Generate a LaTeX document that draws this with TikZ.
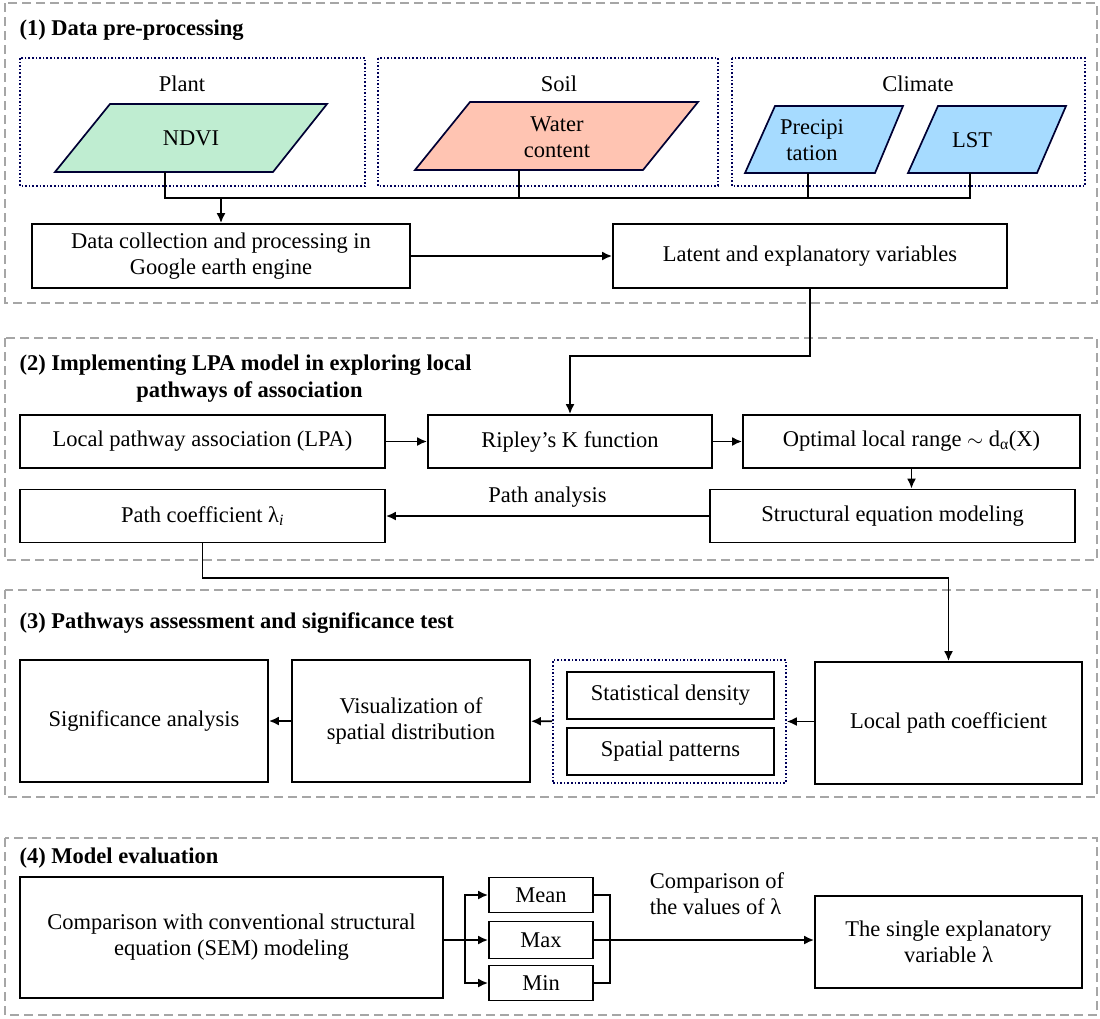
\documentclass[tikz,border=0pt]{standalone}
\usepackage{fontspec}
\setmainfont{LiberationSerif}[Extension=.ttf, UprightFont=*-Regular, BoldFont=*-Bold, ItalicFont=*-Italic, BoldItalicFont=*-BoldItalic]
\usetikzlibrary{arrows.meta}
\begin{document}
\begin{tikzpicture}[x=1pt,y=-1pt,
  font=\fontsize{22.5}{26}\selectfont,
  sect/.style={draw=gray!70, dashed, dash pattern=on 9pt off 5pt, line width=1.5pt},
  grp/.style={draw=blue!35!black, dotted, line width=1.6pt},
  bx/.style={draw, line width=1.8pt, align=center, inner sep=0pt},
  para/.style={draw=black!80!blue, line width=1.7pt},
  ttl/.style={font=\fontsize{22.5}{27}\selectfont\bfseries, anchor=west, align=left},
  ln/.style={line width=1.8pt},
  arr/.style={line width=1.8pt, -{Latex[length=10pt,width=9pt]}}]
\useasboundingbox (0,0) rectangle (1100,1018);
% Section 1
\draw[sect] (5,3) rectangle (1097,303);
\node[ttl] (t1) at (16,30) {(1) Data pre-processing};
\draw[grp] (20,58) rectangle (365,186);
\draw[grp] (378,58) rectangle (718,186);
\draw[grp] (732,58) rectangle (1085,186);
\node (plant) at (182,84) {Plant};
\node (soil) at (559,84) {Soil};
\node (clim) at (918,84) {Climate};
\draw[para, fill=green!45!teal!25] (55,172) -- (110,104) -- (327,104) -- (273,172) -- cycle;
\draw[para, fill=orange!45!red!30!white] (415,170) -- (470,102) -- (698,102) -- (643,170) -- cycle;
\draw[para, fill=blue!40!cyan!35] (745,173) -- (775,106) -- (903,106) -- (875,173) -- cycle;
\draw[para, fill=blue!40!cyan!35] (908,173) -- (938,106) -- (1066,106) -- (1037,173) -- cycle;
\node (ndvi) at (191,138) {NDVI};
\node[align=center] (wc) at (557,137) {Water\\content};
\node[align=center] (pr) at (812,140) {Precipi\\tation};
\node (lst) at (972,140) {LST};
\coordinate (b1) at (165,172); \coordinate (b2) at (519,170);
\coordinate (b3) at (808,173); \coordinate (b4) at (970,173);
\coordinate (hj) at (221,198);
\draw[ln] (b1) |- (b4 |- hj) -- (b4);
\draw[ln] (b2) -- (b2 |- hj);
\draw[ln] (b3) -- (b3 |- hj);
\node[bx, minimum width=378pt, minimum height=64pt] (dc) at (221,256) {Data collection and processing in\\Google earth engine};
\node[bx, minimum width=394pt, minimum height=64pt] (lev) at (810,256) {Latent and explanatory variables};
\draw[arr] (hj) -- (dc.north);
\draw[arr] (dc) -- (lev);
% Section 2
\draw[sect] (5,338) rectangle (1097,560);
\node[ttl] (t2) at (16,379) {(2) Implementing LPA model in exploring local\\\phantom{(2) Impleme}pathways of association};
\node[bx, minimum width=365pt, minimum height=53pt] (lpa) at (202.5,441.5) {Local pathway association (LPA)};
\node[bx, minimum width=284pt, minimum height=53pt] (rip) at (570,441.5) {Ripley's K function};
\node[bx, minimum width=337pt, minimum height=53pt] (opt) at (911.5,441.5) {Optimal local range $\sim$ d\textsubscript{α}(X)};
\node[bx, minimum width=365pt, minimum height=53pt] (sem) at (892.5,516) {Structural equation modeling};
\node[bx, minimum width=365pt, minimum height=53pt] (pc) at (202.5,516) {Path coefficient λ\textsubscript{\itshape i}};
\draw[arr] (lev.south) |- (rip.north |- 0,356) -- (rip.north);
\draw[arr] (lpa) -- (rip);
\draw[arr] (rip) -- (opt);
\draw[arr] (opt.south) -- (opt.south |- sem.north);
\draw[arr] (sem) -- node[above=4pt] (pa) {Path analysis} (pc);
% Section 3
\draw[sect] (5,590) rectangle (1097,797);
\node[ttl] (t3) at (16,623) {(3) Pathways assessment and significance test};
\node[bx, minimum width=248pt, minimum height=122pt] (sig) at (144,721) {Significance analysis};
\node[bx, minimum width=238pt, minimum height=122pt] (vis) at (411,721) {Visualization of\\spatial distribution};
\node[grp, minimum width=233pt, minimum height=123pt, inner sep=0pt] (g) at (669.5,721.5) {};
\node[bx, minimum width=207pt, minimum height=47pt] (sd) at (670.5,695.5) {Statistical density};
\node[bx, minimum width=207pt, minimum height=47pt] (sp) at (670.5,751.5) {Spatial patterns};
\node[bx, minimum width=267pt, minimum height=122pt] (lpc) at (948.5,723) {Local path coefficient};
\draw[arr] (pc.south) |- (lpc.north |- 0,578) -- (lpc.north);
\draw[arr] (lpc.west |- g) -- (g.east);
\draw[arr] (g) -- (vis);
\draw[arr] (vis) -- (sig);
% Section 4
\draw[sect] (5,838) rectangle (1097,1015);
\node[ttl] (t4) at (16,858) {(4) Model evaluation};
\node[bx, minimum width=423pt, minimum height=121pt] (cmp) at (231.5,937.5) {Comparison with conventional structural\\equation (SEM) modeling};
\node[bx, minimum width=104pt, minimum height=35pt] (mean) at (541,895) {Mean};
\node[bx, minimum width=104pt, minimum height=37pt] (max) at (541,940) {Max};
\node[bx, minimum width=104pt, minimum height=35pt] (min) at (541,983) {Min};
\node[bx, minimum width=267pt, minimum height=92pt] (sev) at (948.5,942) {The single explanatory\\variable λ};
\coordinate (lj) at (465,940); \coordinate (rj) at (610,940);
\draw[ln] (cmp.east |- lj) -- (lj);
\draw[arr] (lj) -- (max);
\draw[arr] (lj) |- (mean);
\draw[arr] (lj) |- (min);
\draw[ln] (mean.east) -| (rj) |- (min.east);
\draw[arr] (max.east) -- (sev.west |- max);
\node[align=left] (cv) at (717,894) {Comparison of\\the values of λ};
\end{tikzpicture}
\end{document}
